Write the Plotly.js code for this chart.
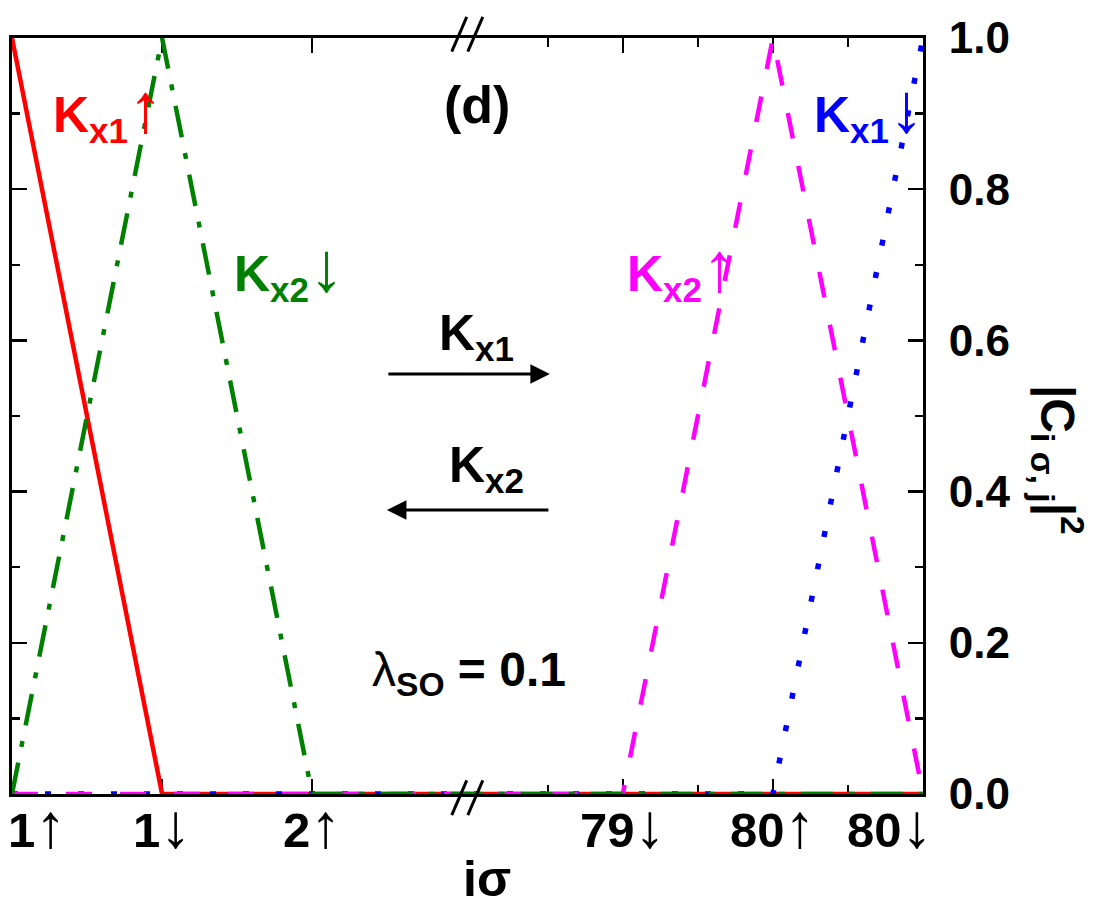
<!DOCTYPE html>
<html>
<head>
<meta charset="utf-8">
<script src="https://cdn.plot.ly/plotly-3.0.1.min.js"></script>
<style>
  html, body { margin: 0; padding: 0; background: #fff; }
  #chart { width: 1100px; height: 918px; }
</style>
</head>
<body>
<div id="chart"></div>
<script>
// Sites along the chain (site number + spin), and their index in the 160-site basis
const siteNumbers = ['1', '1', '2', '79', '80', '80'];
const siteSpins   = ['up', 'down', 'up', 'down', 'up', 'down'];
const siteIndex   = [1, 2, 3, 158, 159, 160];

// |C_{i sigma, j}|^2 for the four edge states
const kx1Up   = [1, 0, 0, 0, 0, 0];
const kx2Down = [0, 1, 0, 0, 0, 0];
const kx2Up   = [0, 0, 0, 0, 1, 0];
const kx1Down = [0, 0, 0, 0, 0, 1];

// Broken x axis: sites 4..157 are squeezed into a fixed-width gap
const BREAK_AFTER = 3;
const BREAK_RESUME = 158;
const BREAK_WIDTH = 2.07;
function axisPos(i) {
  return i <= BREAK_AFTER ? i - 1 : (i - BREAK_RESUME) + (BREAK_AFTER - 1) + BREAK_WIDTH;
}
const xs = siteIndex.map(axisPos);
const xMax = xs[xs.length - 1];
const breakMid = (axisPos(BREAK_AFTER) + axisPos(BREAK_RESUME)) / 2;

const FONT = 'Liberation Sans, Arial, sans-serif';

// tall thin spin arrows
function spin(dir, size) {
  const ch = dir === 'up' ? '\u2191' : '\u2193';
  return '<span style="font-weight:normal;font-size:' + size + 'px">' + ch + '</span>';
}

function line(y, color, dash, width) {
  return {
    x: xs, y: y, type: 'scatter', mode: 'lines',
    line: { color: color, width: width, dash: dash },
    cliponaxis: false, hoverinfo: 'skip', showlegend: false
  };
}

const data = [
  line(kx1Up,   '#ff0000', 'solid', 4.5),
  line(kx1Down, '#0000ff', '6px,27px', 5.5),
  line(kx2Up,   '#ff00ff', '26px,28px', 4.5),
  line(kx2Down, '#008000', '32px,16px,6px,16px', 4.5)
];

function lbl(text, x, y, color, size, extra) {
  return Object.assign({
    text: text, x: x, y: y, xref: 'x', yref: 'y', showarrow: false,
    xanchor: 'left', yanchor: 'middle',
    font: { family: FONT, size: size, color: color, weight: 'bold' }
  }, extra || {});
}

function hArrow(xFrom, xTo, y) {
  return {
    x: xTo, y: y, ax: xFrom, ay: y, xref: 'x', yref: 'y', axref: 'x', ayref: 'y',
    text: '', showarrow: true, arrowhead: 2, arrowsize: 1.3, arrowwidth: 3, arrowcolor: '#000'
  };
}

const annotations = [
  lbl('(d)', 3.10, 0.912, '#000', 52, { xanchor: 'center' }),
  lbl('K<sub>x1</sub>' + spin('up', 70), 0.26, 0.905, '#ff0000', 50),
  lbl('K<sub>x1</sub>' + spin('down', 70), 5.33, 0.905, '#0000ff', 50),
  lbl('K<sub>x2</sub>' + spin('down', 70), 1.466, 0.695, '#008000', 50),
  lbl('K<sub>x2</sub>' + spin('up', 70), 4.084, 0.695, '#ff00ff', 50),
  lbl('K<sub>x1</sub>', 2.83, 0.605, '#000', 50),
  lbl('K<sub>x2</sub>', 2.898, 0.43, '#000', 50),
  lbl('<span style="font-weight:normal">\u03bb</span><sub>SO</sub> = 0.1', 2.385, 0.16, '#000', 48),
  hArrow(2.498, 3.584, 0.5556),
  hArrow(3.584, 2.498, 0.3757),
  // axis titles
  {
    text: 'i\u03c3', xref: 'paper', yref: 'paper', x: 0.521, y: -0.112,
    showarrow: false, xanchor: 'center', yanchor: 'middle',
    font: { family: FONT, size: 50, color: '#000', weight: 'bold' }
  },
  {
    text: '|C<sub>i \u03c3, j</sub>|<sup>2</sup>', xref: 'paper', yref: 'paper', x: 1.147, y: 0.442,
    showarrow: false, textangle: 90, xanchor: 'center', yanchor: 'middle',
    font: { family: FONT, size: 48, color: '#000', weight: 'bold' }
  }
];

// x tick labels (ends pulled inside the frame)
siteNumbers.forEach(function (num, k) {
  const first = k === 0, last = k === siteNumbers.length - 1;
  annotations.push({
    text: num + spin(siteSpins[k], 62), x: xs[k], y: 0, xref: 'x', yref: 'paper', showarrow: false,
    xanchor: first ? 'left' : (last ? 'right' : 'center'),
    xshift: first ? -6 : (last ? 12 : 0),
    yanchor: 'top', yshift: 5,
    font: { family: FONT, size: 49, color: '#000', weight: 'bold' }
  });
});

// axis-break marks on the top and bottom frame
const shapes = [];
[[-0.028, 0.018], [0.982, 1.028]].forEach(function (yr) {
  [-0.055, 0.052].forEach(function (dx) {
    shapes.push({
      type: 'line', xref: 'x', yref: 'paper',
      x0: breakMid + dx - 0.05, x1: breakMid + dx + 0.05, y0: yr[0], y1: yr[1],
      line: { color: '#000', width: 3 }
    });
  });
});

const minorX = [axisPos(BREAK_RESUME) - 0.5, axisPos(BREAK_RESUME) + 0.5, axisPos(BREAK_RESUME) + 1.5];

const layout = {
  width: 1100, height: 918,
  margin: { l: 12, r: 177, t: 38, b: 124 },
  paper_bgcolor: '#fff', plot_bgcolor: '#fff',
  showlegend: false,
  xaxis: {
    range: [0, xMax], showgrid: false, zeroline: false,
    showline: true, linecolor: '#000', linewidth: 3, mirror: 'ticks',
    ticks: 'inside', ticklen: 15, tickwidth: 2.5, tickcolor: '#000',
    tickmode: 'array', tickvals: xs, showticklabels: false,
    minor: { tickmode: 'array', tickvals: minorX, ticks: 'inside', ticklen: 9, tickwidth: 2.5, tickcolor: '#000' },
    layer: 'below traces', fixedrange: true
  },
  yaxis: {
    range: [0, 1], side: 'right', showgrid: false, zeroline: false,
    showline: true, linecolor: '#000', linewidth: 3, mirror: 'ticks',
    ticks: 'inside', ticklen: 15, tickwidth: 2.5, tickcolor: '#000',
    tickmode: 'linear', tick0: 0, dtick: 0.2, tickformat: '.1f',
    minor: { dtick: 0.1, ticks: 'inside', ticklen: 8, tickwidth: 2.5, tickcolor: '#000' },
    tickfont: { family: FONT, size: 44, color: '#000', weight: 'bold' },
    ticklabelstandoff: 14,
    layer: 'below traces', fixedrange: true
  },
  annotations: annotations,
  shapes: shapes
};

Plotly.newPlot('chart', data, layout, { staticPlot: true, displayModeBar: false });
</script>
</body>
</html>
